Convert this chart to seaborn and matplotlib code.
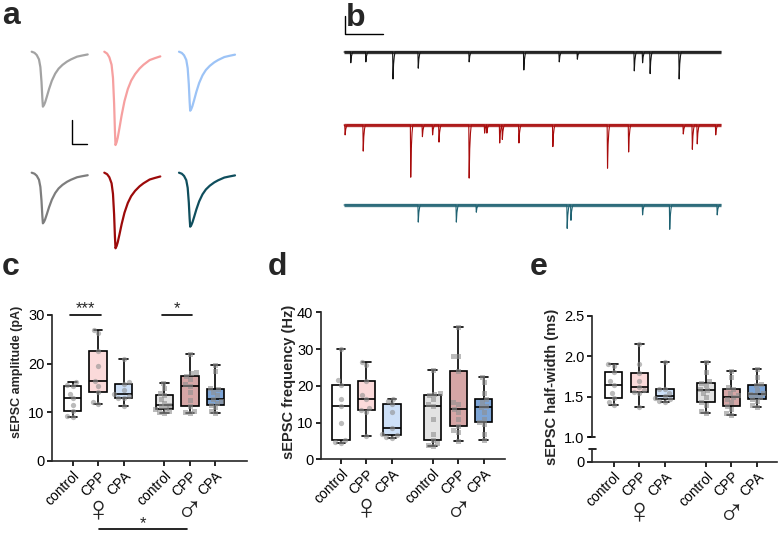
import matplotlib
matplotlib.use("Agg")
import matplotlib.pyplot as plt
import matplotlib.transforms as mtransforms
import numpy as np
import pandas as pd
import seaborn as sns

sns.set_style("ticks")
plt.rcParams["font.family"] = ["Liberation Sans", "DejaVu Sans"]

W, H = 781, 537

# ---------------- data: panels c-e ----------------
group_names = ["F_control", "F_CPP", "F_CPA", "M_control", "M_CPP", "M_CPA"]
group_sex = ["F", "F", "F", "M", "M", "M"]
tick_labels = ["control", "CPP", "CPA", "control", "CPP", "CPA"]
positions = [0, 1, 2, 3.6, 4.6, 5.6]
box_colors = ["#ffffff", "#fbdada", "#cde0f8", "#e3e3e3", "#d6a6a6", "#7ca4d6"]

# sEPSC amplitude (pA)
amp_f_control = [9.0, 9.3, 10.3, 11.5, 12.9, 13.8, 15.4, 15.7, 16.2]
amp_f_cpp = [11.7, 12.2, 14.2, 15.5, 16.4, 19.6, 22.7, 26.2, 27.0]
amp_f_cpa = [11.2, 12.9, 13.0, 13.3, 13.7, 14.6, 15.9, 16.3, 21.0]
amp_m_control = [9.9, 10.0, 10.2, 10.6, 10.9, 11.2, 11.6, 12.0, 12.8, 13.6, 14.0, 15.0, 16.0]
amp_m_cpp = [9.8, 10.0, 10.3, 11.2, 12.5, 14.2, 15.4, 15.9, 16.8, 17.5, 18.0, 18.3, 22.0]
amp_m_cpa = [9.8, 10.2, 11.0, 11.5, 12.0, 12.4, 12.8, 13.5, 14.2, 14.8, 15.0, 18.5, 19.7]

# sEPSC frequency (Hz)
freq_f_control = [4.3, 4.6, 5.2, 10.0, 14.6, 16.3, 20.3, 21.5, 30.0]
freq_f_cpp = [6.3, 12.8, 13.4, 14.0, 16.5, 17.5, 21.3, 25.6, 26.4]
freq_f_cpa = [5.9, 6.0, 6.5, 7.0, 8.6, 13.0, 15.0, 16.0, 16.5]
freq_m_control = [3.7, 4.0, 4.5, 5.3, 7.0, 11.0, 14.5, 15.0, 16.5, 17.4, 17.8, 18.0, 24.3]
freq_m_cpp = [4.9, 7.5, 8.0, 9.0, 11.0, 13.0, 13.8, 15.0, 15.5, 24.0, 28.0, 28.2, 36.1]
freq_m_cpa = [5.2, 7.0, 9.5, 10.2, 11.0, 13.0, 14.1, 14.5, 15.5, 16.5, 18.0, 21.0, 22.3]

# sEPSC half-width (ms)
hw_f_control = [1.40, 1.43, 1.49, 1.55, 1.65, 1.70, 1.80, 1.88, 1.90]
hw_f_cpp = [1.37, 1.55, 1.56, 1.58, 1.62, 1.70, 1.79, 1.90, 2.15]
hw_f_cpa = [1.44, 1.45, 1.47, 1.49, 1.51, 1.55, 1.59, 1.60, 1.93]
hw_m_control = [1.30, 1.32, 1.40, 1.43, 1.50, 1.55, 1.58, 1.60, 1.65, 1.67, 1.70, 1.80, 1.93]
hw_m_cpp = [1.28, 1.30, 1.35, 1.39, 1.44, 1.47, 1.50, 1.52, 1.55, 1.60, 1.62, 1.75, 1.82]
hw_m_cpa = [1.37, 1.40, 1.45, 1.47, 1.50, 1.52, 1.53, 1.55, 1.58, 1.64, 1.66, 1.75, 1.84]

# ---------------- data: panel a (averaged sEPSC waveforms) ----------------
epsc_time_frac = [0, 0.05, 0.09, 0.13, 0.155, 0.175, 0.19, 0.20, 0.22, 0.24, 0.27, 0.31,
                  0.36, 0.42, 0.48, 0.55, 0.63, 0.70, 0.81, 0.90, 1.0]
epsc_shape = [0, -0.02, -0.06, -0.14, -0.28, -0.55, -0.85, -1.0, -0.97, -0.92, -0.82, -0.68,
              -0.53, -0.40, -0.31, -0.24, -0.18, -0.14, -0.09, -0.07, -0.05]
epsc_amp_female = [22.9, 38.9, 24.6]   # control, CPP, CPA (pA)
epsc_amp_male = [21.1, 31.5, 22.5]
epsc_colors_female = ["#a3a3a3", "#f6a0a0", "#9cc3f6"]
epsc_colors_male = ["#7d7d7d", "#9c0a0a", "#0f4e5d"]

# ---------------- data: panel b (example traces, events: time s, amplitude pA) ----------------
black_t = [0.18, 0.58, 1.30, 1.97, 3.32, 4.77, 5.71, 6.19, 7.70, 7.92, 8.12, 8.89]
black_a = [12, 11, 30, 18, 11, 20, 11, 8, 21, 12, 24, 30]
red_t = [0.03, 0.51, 1.77, 2.08, 2.35, 2.52, 3.32, 3.73, 3.79, 4.13, 4.20, 4.64, 5.54, 6.99, 7.55, 9.00, 9.24, 9.37, 9.86]
red_a = [11, 29, 58, 13, 11, 19, 59, 9, 9, 20, 16, 20, 24, 48, 30, 10, 27, 21, 11]
teal_t = [1.97, 2.98, 3.51, 5.92, 6.02, 7.92, 8.64, 9.90]
teal_a = [19, 19, 8, 26, 17, 11, 27, 11]
trace_colors = ["#151515", "#a80c0c", "#1f6272"]

# ---------------- figure ----------------
fig = plt.figure(figsize=(W / 100, H / 100), dpi=100)


def px_rect(left, top, right, bottom):
    return [left / W, 1 - bottom / H, (right - left) / W, (bottom - top) / H]


ax_bg = fig.add_axes([0, 0, 1, 1])
ax_bg.set_xlim(0, W)
ax_bg.set_ylim(H, 0)
ax_bg.axis("off")
ax_bg.set_zorder(0)

# ---- panel a ----
col_x = [31.7, 104.3, 179.0]
row_base = [51.7, 172.7]
wave_w = 56.0
px_per_pA = 2.4
tf = np.array(epsc_time_frac)
sh = np.array(epsc_shape)
for r, (amps, cols) in enumerate([(epsc_amp_female, epsc_colors_female), (epsc_amp_male, epsc_colors_male)]):
    for c in range(3):
        ax_bg.plot(col_x[c] + tf * wave_w, row_base[r] - sh * amps[c] * px_per_pA,
                   color=cols[c], lw=1.6, solid_capstyle="round", solid_joinstyle="round")
ax_bg.plot([72.3, 72.3, 87.3], [120, 144, 144], color="black", lw=1.0)

# ---- panel b ----
b_x0, px_per_s, px_per_pA_b = 344.0, 37.7, 0.9
for (ts, amps), base, colr in zip([(black_t, black_a), (red_t, red_a), (teal_t, teal_a)],
                                   [52.0, 125.0, 205.0], trace_colors):
    tt, vv = [0.0], [0.0]
    for t, a in sorted(zip(ts, amps)):
        tt += [t - 0.01, t, t + 0.015, t + 0.035, t + 0.055]
        vv += [0, -a, -0.45 * a, -0.15 * a, 0]
    tt.append(10.0)
    vv.append(0.0)
    tt, vv = np.array(tt), np.array(vv)
    ax_bg.plot(b_x0 + np.array([0, 10.0]) * px_per_s, [base, base], color=colr, lw=2.4, alpha=0.85,
               solid_capstyle="butt")
    ax_bg.plot(b_x0 + tt * px_per_s, base - vv * px_per_pA_b, color=colr, lw=0.8)
ax_bg.plot([345, 345, 383], [16, 34, 34], color="black", lw=1.0)

# ---- panel letters ----
for lbl, x, y in [("a", 2, 24), ("b", 346, 26), ("c", 2, 275), ("d", 268, 275), ("e", 530, 275)]:
    ax_bg.text(x, y, lbl, fontsize=23, fontweight="bold", ha="left", va="baseline")


def make_df(vals_list):
    rows = []
    for g, s, p, vals in zip(group_names, group_sex, positions, vals_list):
        for v in vals:
            rows.append({"grp": g, "sex": s, "pos": p, "val": v})
    return pd.DataFrame(rows)


def draw_boxes(ax, df):
    sns.boxplot(data=df, x="pos", y="val", hue="grp", hue_order=group_names,
                palette=dict(zip(group_names, box_colors)), native_scale=True,
                width=0.68, whis=(0, 100), showfliers=False, linecolor="black",
                linewidth=1.2, saturation=1, legend=False, ax=ax)
    sns.swarmplot(data=df[df.sex == "F"], x="pos", y="val", native_scale=True, color="#8f8f8f",
                  marker="o", size=3.8, alpha=0.6, linewidth=0, ax=ax, zorder=3)
    sns.swarmplot(data=df[df.sex == "M"], x="pos", y="val", native_scale=True, color="#8f8f8f",
                  marker="s", size=3.6, alpha=0.6, linewidth=0, ax=ax, zorder=3)
    ax.set_xlabel("")
    ax.set_ylabel("")


def style(ax, xlim, ylim, yticks, yticklabels, show_x=True, show_bottom=True):
    ax.set_facecolor("none")
    ax.set_xlim(*xlim)
    ax.set_ylim(*ylim)
    ax.set_yticks(yticks)
    ax.set_yticklabels(yticklabels, fontsize=10.5)
    ax.spines["top"].set_visible(False)
    ax.spines["right"].set_visible(False)
    ax.spines["left"].set_linewidth(1.2)
    ax.spines["bottom"].set_linewidth(1.2)
    ax.tick_params(axis="both", width=1.2, length=3.5, colors="black", pad=2)
    if show_x:
        ax.set_xticks(positions)
        ax.set_xticklabels(tick_labels, rotation=45, ha="right", rotation_mode="anchor", fontsize=10)
    else:
        ax.set_xticks([])
    if not show_bottom:
        ax.spines["bottom"].set_visible(False)


# ---- panel c ----
ax_c = fig.add_axes(px_rect(52, 315, 247, 461))
draw_boxes(ax_c, make_df([amp_f_control, amp_f_cpp, amp_f_cpa, amp_m_control, amp_m_cpp, amp_m_cpa]))
style(ax_c, (-0.81, 6.84), (0, 30), [0, 10, 20, 30], ["0", "10", "20", "30"])
for x0, x1, txt in [(-0.1, 1.1, "***"), (3.5, 4.7, "*")]:
    ax_c.plot([x0, x1], [30.1, 30.1], color="black", lw=1.2, clip_on=False)
    ax_c.text((x0 + x1) / 2, 30.4, txt, ha="center", va="baseline", fontsize=12)

# ---- panel d ----
ax_d = fig.add_axes(px_rect(321, 312.3, 505, 459.3))
draw_boxes(ax_d, make_df([freq_f_control, freq_f_cpp, freq_f_cpa, freq_m_control, freq_m_cpp, freq_m_cpa]))
style(ax_d, (-0.78, 6.43), (0, 40), [0, 10, 20, 30, 40], ["0", "10", "20", "30", "40"])

# ---- panel e (broken axis) ----
ax_e = fig.add_axes(px_rect(592, 315.7, 776.7, 437.3))
draw_boxes(ax_e, make_df([hw_f_control, hw_f_cpp, hw_f_cpa, hw_m_control, hw_m_cpp, hw_m_cpa]))
style(ax_e, (-0.85, 6.37), (1.0, 2.5), [1.0, 1.5, 2.0, 2.5], ["1.0", "1.5", "2.0", "2.5"],
      show_x=False, show_bottom=False)
ax_e0 = fig.add_axes(px_rect(592, 449, 776.7, 461.7))
style(ax_e0, (-0.85, 6.37), (0, 1), [0], ["0"])
ax_bg.plot([588.5, 595], [437.3, 437.3], color="black", lw=1.2)
ax_bg.plot([588.5, 595.5], [449, 449], color="black", lw=1.2)

# ---- y labels ----
for txt, x, y, fs in [("sEPSC amplitude (pA)", 17, 372, 9),
                      ("sEPSC frequency (Hz)", 289, 382, 10.5),
                      ("sEPSC half-width (ms)", 552, 387, 10.5)]:
    ax_bg.text(x, y, txt, rotation=90, ha="center", va="center", fontsize=fs, fontweight="bold")

# ---- sex symbols and bottom comparison ----
for ax, yf, ym in [(ax_c, 511, 510), (ax_d, 509, 510), (ax_e0, 513, 513)]:
    tr = mtransforms.blended_transform_factory(ax.transData, ax_bg.transData)
    ax_bg.text(1.0, yf, "\u2640", transform=tr, ha="center", va="center", fontsize=26, fontweight="bold")
    ax_bg.text(4.6, ym, "\u2642", transform=tr, ha="center", va="center", fontsize=26, fontweight="bold")

tr_c = mtransforms.blended_transform_factory(ax_c.transData, ax_bg.transData)
ax_bg.plot([1.03, 4.47], [529.3, 529.3], color="black", lw=1.2, transform=tr_c, clip_on=False)
ax_bg.text(2.75, 528.5, "*", transform=tr_c, ha="center", va="baseline", fontsize=12)

fig.savefig("out.png", dpi=100)
